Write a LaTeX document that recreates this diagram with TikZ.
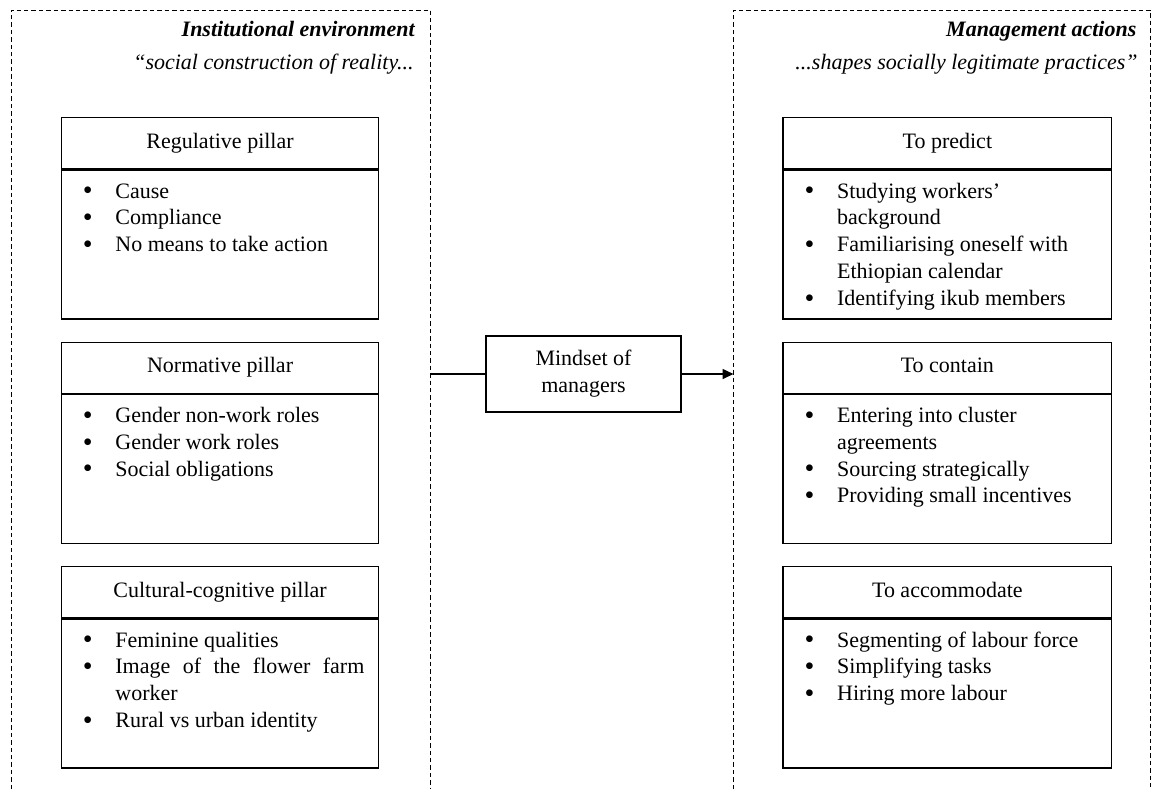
\documentclass[tikz,border=0pt]{standalone}
\usepackage{fontspec}
\setmainfont{Liberation Serif}
\usetikzlibrary{arrows.meta}
\newcommand{\bigbul}{\raisebox{-0.9pt}{\fontsize{14pt}{14pt}\selectfont\textbullet}}
\newcommand{\bitem}[1]{\par\noindent\llap{\bigbul\hspace{11.4pt}}#1}
\newcommand{\blist}[2]{\parbox[t]{#1}{\fontsize{11pt}{13.4pt}\selectfont #2}}
\tikzset{
  frame/.style={draw, line width=0.5pt, dash pattern=on 2.2pt off 1.5pt},
  boxline/.style={line width=0.7pt},
  titlebox/.style={draw, boxline, inner sep=0pt, minimum height=25.5pt,
    text height=7.6pt, text depth=2.4pt, anchor=north west},
  bodybox/.style={draw, boxline, inner sep=0pt, minimum height=74.5pt, anchor=north west},
  lbox/.style={minimum width=158.65pt},
  rbox/.style={minimum width=164.35pt},
  itemtext/.style={anchor=base west, inner sep=0pt},
  midbox/.style={draw, boxline, inner sep=0pt, minimum width=97.5pt,
    minimum height=38pt, align=center},
  headbf/.style={anchor=base east, inner sep=0pt, font=\fontsize{11pt}{13.4pt}\selectfont\bfseries\itshape},
  headit/.style={anchor=base east, inner sep=0pt, font=\fontsize{11pt}{13.4pt}\selectfont\itshape},
  conn/.style={line width=0.6pt},
  arr/.style={line width=0.8pt, -{Triangle[length=5.5pt,width=5pt]}},
  every node/.append style={font=\fontsize{11pt}{13.4pt}\selectfont},
}
\begin{document}
\begin{tikzpicture}[x=0.5pt,y=-0.5pt]
\useasboundingbox (0,0) rectangle (1154,789);
% frames
\draw[frame] (11.3,789) -- (11.3,10) -- (430.5,10) -- (430.5,789);
\draw[frame] (733.5,789) -- (733.5,10) -- (1150,10) -- (1150,789);
% headings
\node[headbf] (h1) at (415,36.7) {Institutional environment};
\node[headit] (h2) at (414,69.3) {“social construction of reality...};
\node[headbf] (h3) at (1136.7,36.7) {Management actions};
\node[headit] (h4) at (1138,69.3) {...shapes socially legitimate practices”};
% left boxes
\node[titlebox,lbox] (t1) at (60.7,117) {Regulative pillar};
\node[bodybox,lbox] (b1) at (t1.south west) {};
\node[itemtext] (i1) at (115,198) {\blist{124.5pt}{\bitem{Cause}\bitem{Compliance}\bitem{No means to take action}}};
\node[titlebox,lbox] (t2) at (60.7,341.5) {Normative pillar};
\node[bodybox,lbox] (b2) at (t2.south west) {};
\node[itemtext] (i2) at (115,422.5) {\blist{124.5pt}{\bitem{Gender non-work roles}\bitem{Gender work roles}\bitem{Social obligations}}};
\node[titlebox,lbox] (t3) at (60.7,566) {Cultural-cognitive pillar};
\node[bodybox,lbox] (b3) at (t3.south west) {};
\node[itemtext] (i3) at (115,647) {\blist{124.5pt}{\bitem{Feminine qualities}\bitem{\makebox[124.5pt][s]{Image of the flower farm}\newline worker}\bitem{Rural vs urban identity}}};
% right boxes
\node[titlebox,rbox] (t4) at (782.3,117) {To predict};
\node[bodybox,rbox] (b4) at (t4.south west) {};
\node[itemtext] (i4) at (836.7,198) {\blist{130pt}{\raggedright\bitem{Studying workers’\newline background}\bitem{Familiarising oneself with\newline Ethiopian calendar}\bitem{Identifying ikub members}}};
\node[titlebox,rbox] (t5) at (782.3,341.5) {To contain};
\node[bodybox,rbox] (b5) at (t5.south west) {};
\node[itemtext] (i5) at (836.7,422.5) {\blist{130pt}{\raggedright\bitem{Entering into cluster\newline agreements}\bitem{Sourcing strategically}\bitem{Providing small incentives}}};
\node[titlebox,rbox] (t6) at (782.3,566) {To accommodate};
\node[bodybox,rbox] (b6) at (t6.south west) {};
\node[itemtext] (i6) at (836.7,647) {\blist{130pt}{\raggedright\bitem{Segmenting of labour force}\bitem{Simplifying tasks}\bitem{Hiring more labour}}};
% middle
\node[midbox] (mind) at (583.5,374) {Mindset of\\managers};
\coordinate (lf) at (430.5,374);
\coordinate (rf) at (733.5,374);
\draw[conn] (lf) -- (mind.west);
\draw[arr] (mind.east) -- (rf);
\end{tikzpicture}
\end{document}
